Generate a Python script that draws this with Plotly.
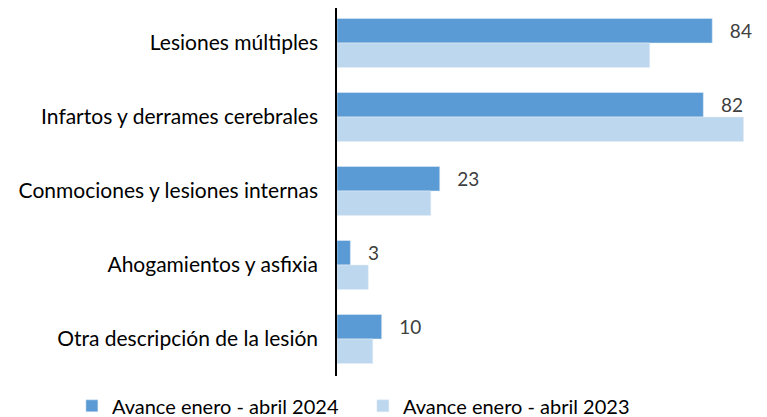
import plotly.graph_objects as go

# Causas de la lesión, avance enero - abril
categorias = [
    "Lesiones múltiples",
    "Infartos y derrames cerebrales",
    "Conmociones y lesiones internas",
    "Ahogamientos y asfixia",
    "Otra descripción de la lesión",
]
valores_2024 = [84, 82, 23, 3, 10]
valores_2023 = [70, 91, 21, 7, 8]

FONT = "Lato"
GRIS = "#404040"

fig = go.Figure()
fig.add_trace(go.Bar(
    y=categorias, x=valores_2024, orientation="h",
    name="Avance enero - abril 2024",
    marker=dict(color="#5B9BD5"),
    text=valores_2024,
    texttemplate="\u00a0\u00a0\u00a0%{x}",
    textposition="outside",
    textfont=dict(size=19, color=GRIS, family=FONT),
    cliponaxis=False,
))
fig.add_trace(go.Bar(
    y=categorias, x=valores_2023, orientation="h",
    name="Avance enero - abril 2023",
    marker=dict(color="#BDD7EE"),
))

# la página añade 8px de margen al cuerpo, por eso 759x409
fig.update_layout(
    width=759, height=409,
    margin=dict(l=329, r=19, t=0, b=41, autoexpand=False),
    plot_bgcolor="white", paper_bgcolor="white",
    barmode="group", bargap=0.338, bargroupgap=0,
    font=dict(family=FONT, size=20, color="#000000"),
    showlegend=True,
    legend=dict(
        orientation="h",
        x=-0.645, y=-0.028, xanchor="left", yanchor="top",
        font=dict(size=20, color="#000000"),
        itemwidth=30, entrywidth=246,
    ),
)
fig.update_xaxes(range=[0, 92], showgrid=False, zeroline=False,
                 showticklabels=False, showline=False, automargin=False)
fig.update_yaxes(range=[4.5, -0.473], showline=True, linecolor="#000000",
                 linewidth=1.5, ticks="", ticklabelstandoff=13, automargin=False,
                 tickfont=dict(size=21, color="#000000", family=FONT))

fig.write_html("out.html")
